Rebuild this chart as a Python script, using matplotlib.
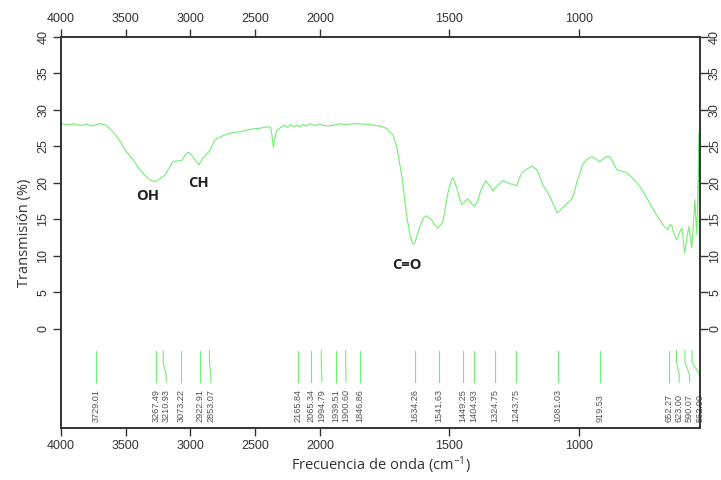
import matplotlib
matplotlib.use("Agg")
import matplotlib.pyplot as plt
import numpy as np

plt.rcParams["mathtext.fontset"] = "custom"
plt.rcParams["mathtext.rm"] = "Open Sans"
plt.rcParams["mathtext.it"] = "Open Sans:italic"

# espectro FTIR (numero de onda, transmision)
wavenumber = [4000, 3950, 3900, 3850, 3800, 3760, 3730, 3700, 3660, 3640,
              3598, 3550, 3500, 3444, 3400, 3350, 3313, 3280, 3259, 3230,
              3200, 3170, 3135, 3100, 3066, 3040, 3019, 3000, 2981, 2955,
              2934, 2920, 2903, 2880, 2849, 2830, 2811, 2770, 2718, 2670,
              2618, 2570, 2517, 2460, 2402, 2380, 2370, 2360, 2350, 2335,
              2310, 2294, 2270, 2250, 2230, 2200, 2180, 2154, 2130, 2100,
              2080, 2054, 2030, 2010, 1990, 1970, 1950, 1920, 1900, 1870,
              1846, 1810, 1768, 1745, 1730, 1718, 1703, 1683, 1664, 1650,
              1641, 1633, 1625, 1614, 1600, 1587, 1568, 1555, 1544, 1525,
              1515, 1506, 1490, 1486, 1471, 1460, 1452, 1440, 1429, 1415,
              1402, 1390, 1382, 1370, 1359, 1345, 1332, 1315, 1293, 1266,
              1239, 1230, 1220, 1200, 1181, 1162, 1150, 1139, 1125, 1112,
              1095, 1085, 1070, 1062, 1045, 1027, 1015, 1008, 995, 985,
              970, 950, 935, 919, 905, 892, 880, 868, 853, 835,
              815, 790, 764, 740, 718, 700, 687, 670, 656, 648,
              641, 632, 622, 612, 602, 596, 591, 583, 575, 569,
              564, 558, 552, 548, 544, 540, 536, 533]
transmision = [28.1, 28.0, 28.1, 27.9, 28.0, 27.8, 28.0, 28.1, 28.0, 27.7,
               27.0, 25.9, 24.4, 23.2, 22.0, 21.0, 20.4, 20.2, 20.3, 20.7,
               21.0, 21.9, 22.9, 23.0, 23.1, 23.8, 24.2, 24.0, 23.6, 22.9,
               22.5, 22.9, 23.4, 23.8, 24.5, 25.2, 25.9, 26.3, 26.7, 26.9,
               27.0, 27.2, 27.4, 27.5, 27.7, 27.6, 26.5, 24.9, 26.0, 27.1,
               27.5, 27.7, 27.9, 27.6, 28.0, 27.7, 27.9, 27.7, 28.0, 27.8,
               28.1, 28.0, 27.8, 28.1, 27.9, 27.8, 27.9, 28.1, 28.0, 28.1,
               28.1, 28.0, 27.8, 27.5, 27.0, 26.6, 24.9, 20.8, 15.3, 12.5,
               11.6, 11.8, 12.8, 14.0, 15.2, 15.5, 14.9, 14.2, 13.8, 14.7,
               16.8, 18.6, 20.6, 20.7, 19.3, 17.8, 17.0, 17.5, 17.8, 17.2,
               16.8, 17.6, 18.6, 19.6, 20.3, 19.6, 18.9, 19.6, 20.3, 19.9,
               19.6, 20.6, 21.4, 21.9, 22.3, 21.8, 20.8, 19.7, 19.0, 18.1,
               16.8, 15.9, 16.3, 16.6, 17.2, 17.8, 19.0, 20.1, 21.4, 22.5,
               23.2, 23.6, 23.3, 22.9, 23.3, 23.6, 23.6, 22.8, 21.8, 21.6,
               21.4, 20.6, 19.5, 18.1, 16.7, 15.6, 14.9, 14.0, 13.6, 14.3,
               14.1, 13.0, 12.2, 13.2, 13.8, 12.0, 10.4, 12.5, 14.0, 12.5,
               11.1, 14.0, 17.7, 15.0, 12.9, 20.0, 27.0, 0.0]

# picos marcados
peaks = [3729.01, 3267.49, 3210.93, 3073.22, 2922.91, 2853.07, 2165.84,
         2065.34, 1994.79, 1939.51, 1900.60, 1846.86, 1634.26, 1541.63,
         1449.25, 1404.93, 1324.75, 1243.75, 1081.03, 919.53, 652.27,
         623.00, 590.07, 562.90]

bands = ["OH", "CH", "C=O"]
band_x = [3328, 2942, 1664]
band_y = [18.2, 20.0, 8.8]

xticks = [4000, 3500, 3000, 2500, 2000, 1500, 1000]
yticks = [0, 5, 10, 15, 20, 25, 30, 35, 40]

green = "#72ee72"
dark = "#333333"


# escala doble por debajo de 2000 cm-1
def fwd(x):
    x = np.asarray(x, dtype=float)
    return np.where(x >= 2000, x, 2 * x - 2000)


def inv(t):
    t = np.asarray(t, dtype=float)
    return np.where(t >= 2000, t, (t + 2000) / 2)


fig = plt.figure(figsize=(7.21, 4.80), dpi=100)
ax = fig.add_axes([0.0846, 0.1083, 0.8863, 0.8146])
ax.set_xscale("function", functions=(fwd, inv))
ax.set_xlim(4000, 532)
ax.set_ylim(-13.6, 40)

ax.plot(wavenumber, transmision, color=green, linewidth=0.8)

# lineas de picos con etiquetas separadas
min_gap = 80.0
t_peaks = fwd(peaks)
t_lab = []
for t in t_peaks:
    if t_lab and t_lab[-1] - t < min_gap:
        t = t_lab[-1] - min_gap
    t_lab.append(t)
x_lab = inv(np.array(t_lab))

y_top, y_bend1, y_bend2, y_end = -3.0, -4.6, -6.3, -7.3
for xp, xl in zip(peaks, x_lab):
    ax.plot([xp, xp, xl, xl], [y_top, y_bend1, y_bend2, y_end],
            color=green, linewidth=0.8, clip_on=False)
    ax.text(xl, -12.8, f"{xp:.2f}", rotation=90, ha="center", va="bottom",
            fontsize=6.6, color="#555555", family="Liberation Sans",
            clip_on=False)

for lab, bx, by in zip(bands, band_x, band_y):
    ax.text(bx, by, lab, ha="center", va="center", fontsize=10.5,
            fontweight="bold", family="Open Sans", color="#222222")

ax.set_xticks(xticks)
ax.set_xticklabels([str(v) for v in xticks])
ax.set_yticks(yticks)
ax.set_yticklabels([str(v) for v in yticks])
ax.xaxis.set_minor_locator(matplotlib.ticker.NullLocator())

ax.tick_params(axis="both", direction="out", length=5.5, width=1.0,
               color=dark, labelcolor=dark, labelsize=9, pad=3)
ax.tick_params(axis="x", top=True, labeltop=True)
ax.tick_params(axis="y", labelrotation=90)

# eje derecho con las mismas marcas
ax2 = ax.twinx()
ax2.set_ylim(ax.get_ylim())
ax2.set_yticks(yticks)
ax2.set_yticklabels([str(v) for v in yticks])
ax2.tick_params(axis="y", direction="out", length=5.5, width=1.0,
                color=dark, labelcolor=dark, labelsize=9, pad=1,
                labelrotation=90)

for lbl in ax.get_xticklabels() + ax.get_yticklabels() + ax2.get_yticklabels():
    lbl.set_family("Liberation Sans")
for lbl in ax.get_yticklabels() + ax2.get_yticklabels():
    lbl.set_verticalalignment("center")
for a in (ax, ax2):
    for side in ["left", "right", "top", "bottom"]:
        a.spines[side].set_color(dark)
        a.spines[side].set_linewidth(1.2)

ax.set_xlabel(r"Frecuencia de onda (cm$^{\mathrm{-1}}$)", fontsize=10.5,
              family="Open Sans", color="#333333", labelpad=2)
ax.set_ylabel("Transmisión (%)", fontsize=10.5, family="Open Sans",
              color="#333333", labelpad=4)

fig.savefig("out.png", dpi=100)
